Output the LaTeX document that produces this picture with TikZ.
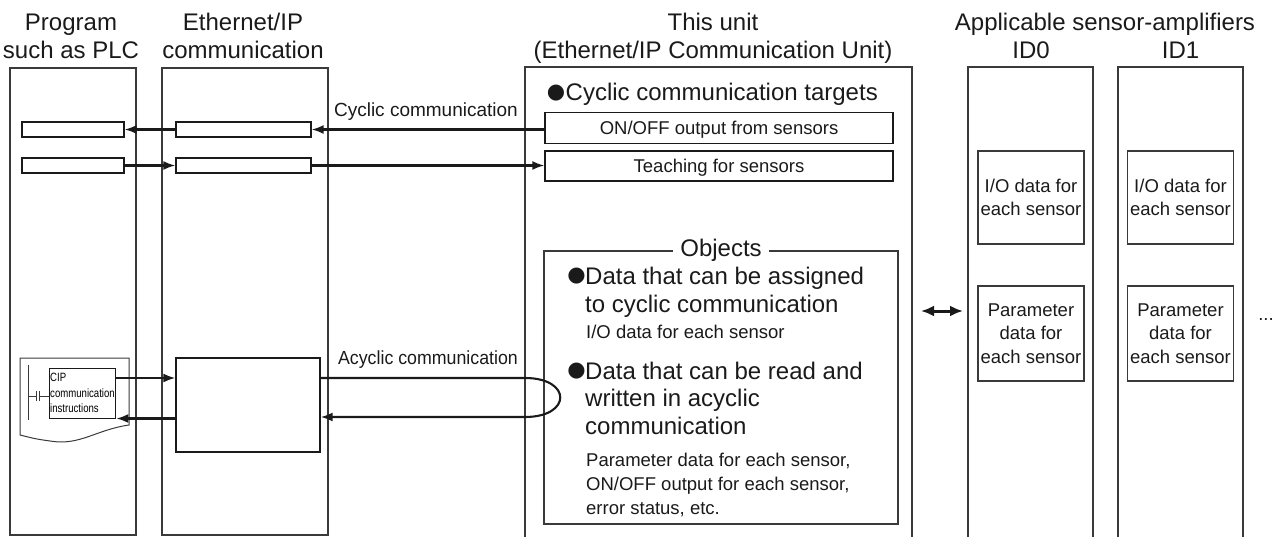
\documentclass[tikz,border=0pt]{standalone}
\usepackage{fontspec}
\usepackage{graphicx}
\setmainfont{Liberation Sans}
\newfontfamily\bulfont{DejaVu Sans}
\newfontfamily\cipfont{Liberation Sans}[FakeStretch=0.8]
\usetikzlibrary{arrows.meta,calc,positioning}
\definecolor{Frame}{HTML}{3A3A3A}
\definecolor{Ink}{HTML}{1A1A1A}

\begin{document}
\begin{tikzpicture}[x=1pt,y=-1pt,
    col/.style={draw=Frame,line width=1.2pt,minimum height=467pt,inner sep=0pt},
    box/.style={draw=Ink,line width=1.3pt,inner sep=0pt},
    hdr/.style={font=\fontsize{24}{28}\selectfont,align=center,inner sep=0pt,text=Ink},
    big/.style={font=\fontsize{24}{28}\selectfont,inner sep=0pt,anchor=base west,text=Ink},
    small/.style={font=\fontsize{18.5}{23.5}\selectfont,inner sep=0pt,text=Ink},
    lbl/.style={font=\fontsize{19}{23}\selectfont,inner sep=0pt,anchor=base east,text=Ink},
    bul/.style={font=\bulfont\fontsize{21}{21}\selectfont,inner sep=0pt,text=Ink},
    arr/.style={-{Latex[length=12pt,width=9pt]},line width=2.1pt,draw=Ink},
    dbl/.style={{Latex[length=13pt,width=11pt]}-{Latex[length=13pt,width=11pt]},line width=3pt,draw=Ink}]
  \useasboundingbox (0,0) rectangle (1281,537);
  \clip (0,0) rectangle (1281,537);

  % headers
  \node[hdr] (hplc) at (71,36.1) {Program\\such as PLC};
  \node[hdr] (heip) at (243,36) {Ethernet/IP\\communication};
  \node[hdr] (hunit) at (713,38.4) {This unit\\(Ethernet/IP Communication Unit)};
  \node[hdr,anchor=base] (hamp) at (1105,30.6) {Applicable sensor-amplifiers};
  \node[hdr,anchor=base] (hidzero) at (1031,58.6) {ID0};
  \node[hdr,anchor=base] (hidone) at (1180.5,58.6) {ID1};

  % columns
  \node[col,minimum width=126pt] (plc) at (73,301.5) {};
  \node[col,minimum width=166pt] (eip) at (245,301.5) {};
  \node[col,minimum width=387pt,minimum height=480pt] (unit) at (718.5,307) {};
  \node[col,minimum width=125pt,minimum height=480pt] (idzero) at (1030.5,307) {};
  \node[col,minimum width=125pt,minimum height=480pt] (idone) at (1180.5,307) {};

  % cyclic communication
  \node[box,minimum width=102pt,minimum height=15pt] (plcin) at (73,129.5) {};
  \node[box,minimum width=135pt,minimum height=15pt] (eipin) at (243.5,129.5) {};
  \node[box,minimum width=102pt,minimum height=15pt] (plcout) at (73,165.5) {};
  \node[box,minimum width=135pt,minimum height=15pt] (eipout) at (243.5,165.5) {};
  \node[bul] (bzero) at (556,93) {●};
  \node[big] (targets) at (565.5,100.5) {Cyclic communication targets};
  \node[box,small,minimum width=348pt,minimum height=31pt,text height=13.4pt,text depth=0pt] (onoff) at (719,128) {ON/OFF output from sensors};
  \node[box,small,minimum width=348pt,minimum height=30pt,text height=13.4pt,text depth=0pt] (teach) at (719,166) {Teaching for sensors};
  \node[lbl] (lcyc) at (518,116.5) {Cyclic communication};
  \draw[arr] (onoff.west |- eipin.east) -- (eipin.east);
  \draw[arr] (eipin.west) -- (plcin.east);
  \draw[arr] (plcout.east) -- (eipout.west);
  \draw[arr] (eipout.east) -- (teach.west |- eipout.east);

  % objects
  \node[box,draw=Frame,minimum width=354pt,minimum height=273pt] (objects) at (721,387.5) {};
  \node[big,anchor=base,fill=white,inner xsep=7pt,inner ysep=1pt] (objlbl) at (721,256.5) {Objects};
  \node[bul] (bone) at (576.5,276) {●};
  \node[bul] (btwo) at (576.5,371) {●};
  \foreach \nm/\yb/\txt in {asgone/284/{Data that can be assigned},asgtwo/312/{to cyclic communication},
      rwone/379/{Data that can be read and},rwtwo/406.5/{written in acyclic},rwthree/434/{communication}}
    \node[big] (\nm) at (585,\yb) {\txt};
  \foreach \nm/\yb/\txt in {asgio/338/{I/O data for each sensor},rwpar/466/{Parameter data for each sensor,},
      rwonoff/490/{ON/OFF output for each sensor,},rwerr/514/{error status, etc.}}
    \node[small,anchor=base west] (\nm) at (586,\yb) {\txt};

  % sensor-amplifiers
  \node[box,draw=Frame,small,align=center,minimum width=106pt,minimum height=93pt] (iozero) at (1031,197.5) {I/O data for\\each sensor};
  \node[box,draw=Frame,small,align=center,minimum width=106pt,minimum height=93pt] (ioone) at (1180.5,197.5) {I/O data for\\each sensor};
  \node[box,draw=Frame,small,align=center,minimum width=106pt,minimum height=95pt] (parzero) at (1031,333.5) {Parameter\\data for\\each sensor};
  \node[box,draw=Frame,small,align=center,minimum width=106pt,minimum height=95pt] (parone) at (1180.5,333.5) {Parameter\\data for\\each sensor};
  \coordinate (dl) at (921,311);
  \coordinate (dr) at (963,311);
  \draw[dbl] (dl) -- (dr);
  \node[small,anchor=base] (more) at (1266,320) {...};

  % acyclic communication
  \draw[Frame,line width=1pt] (20,358) -- (129,358) -- (129,425)
    .. controls (95,430) and (80,446) .. (50,441) .. controls (36,439) .. (20,435) -- cycle;
  \node[box,line width=1pt,font=\cipfont\fontsize{12}{15.5}\selectfont,align=left,
    minimum width=65pt,minimum height=50pt,inner sep=1pt] (cip) at (82.5,393) {CIP\\communication\\instructions};
  \draw[Frame,line width=1pt] (28,365) -- (28,420);
  \draw[Frame,line width=1pt] (28,396) -- (36,396) (39,396) -- (cip.west |- 0,396)
    (36,391) -- (36,401) (39,391) -- (39,401);
  \node[box,minimum width=144pt,minimum height=94pt] (eipbox) at (248,405) {};
  \draw[arr] ([yshift=15pt]cip.east) -- ([yshift=15pt]cip.east -| eipbox.west);
  \draw[arr] (cip.south east -| eipbox.west) -- (cip.south east);
  \draw[arr] ([yshift=27pt]eipbox.east) -- (525,378) .. controls (572,378) and (572,417) .. (525,417)
    -- ([yshift=-12pt]eipbox.east);
  \node[lbl] (lacyc) at (518,364) {\scalebox{0.935}[1]{Acyclic communication}};
\end{tikzpicture}
\end{document}
